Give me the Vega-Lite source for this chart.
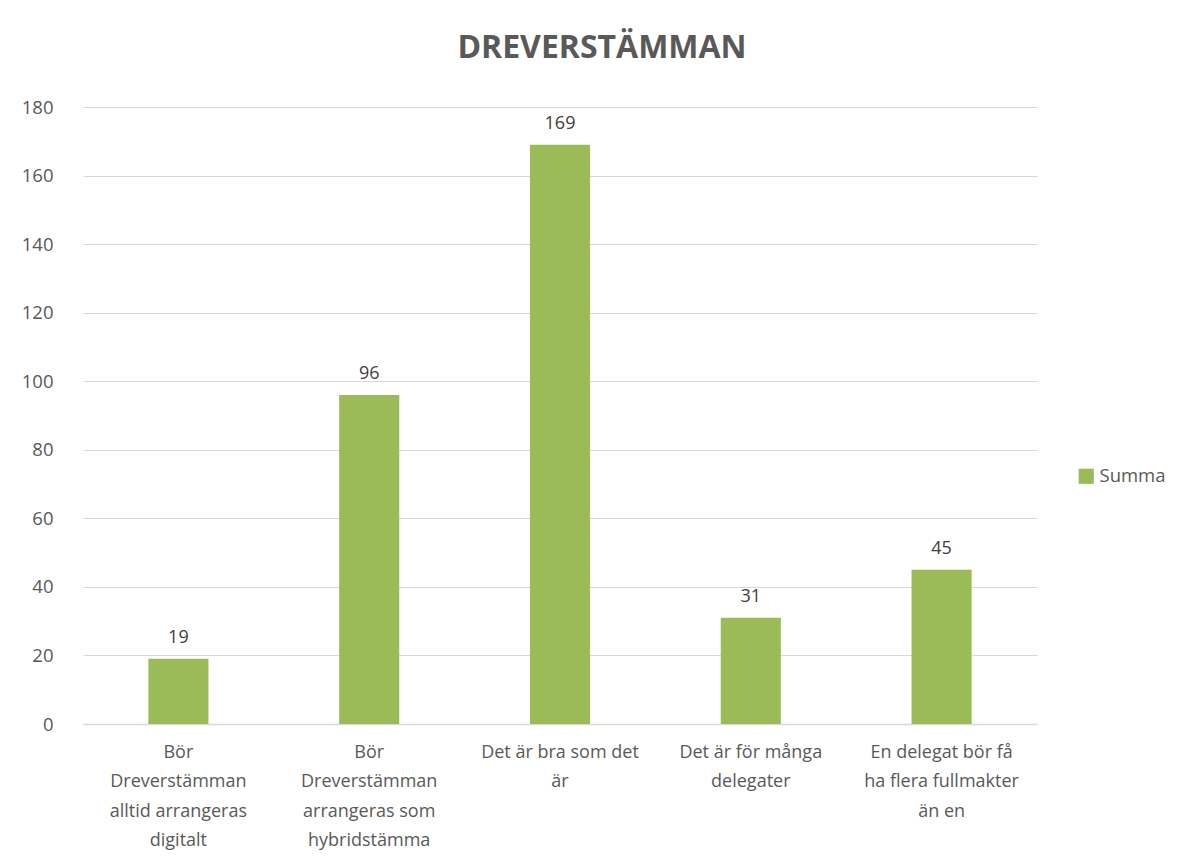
{
  "$schema": "https://vega.github.io/schema/vega-lite/v6.json",
  "autosize": "none",
  "width": 954,
  "height": 617,
  "padding": {"left": 83, "top": 107, "right": 155, "bottom": 144},
  "background": "white",
  "config": {
    "font": "Open Sans",
    "view": {"stroke": null}
  },
  "title": {
    "text": "DREVERSTÄMMAN",
    "font": "Open Sans",
    "fontSize": 32,
    "fontWeight": "bold",
    "color": "#595959",
    "anchor": "middle",
    "frame": "group",
    "dx": 42,
    "offset": 33
  },
  "data": {
    "values": [
      {"kategori": "Bör Dreverstämman alltid arrangeras digitalt", "serie": "Summa", "antal": 19},
      {"kategori": "Bör Dreverstämman arrangeras som hybridstämma", "serie": "Summa", "antal": 96},
      {"kategori": "Det är bra som det är", "serie": "Summa", "antal": 169},
      {"kategori": "Det är för många delegater", "serie": "Summa", "antal": 31},
      {"kategori": "En delegat bör få ha flera fullmakter än en", "serie": "Summa", "antal": 45}
    ]
  },
  "encoding": {
    "x": {
      "field": "kategori",
      "type": "nominal",
      "sort": null,
      "title": null,
      "scale": {"paddingInner": 0.685, "paddingOuter": 0.3425},
      "axis": {
        "labelAngle": 0,
        "labelFont": "Open Sans",
        "labelFontSize": 18,
        "labelColor": "#595959",
        "labelLineHeight": 29.5,
        "labelPadding": 19,
        "labelBaseline": "top",
        "labelLimit": 300,
        "labelExpr": "{'Bör Dreverstämman alltid arrangeras digitalt': ['Bör', 'Dreverstämman', 'alltid arrangeras', 'digitalt'], 'Bör Dreverstämman arrangeras som hybridstämma': ['Bör', 'Dreverstämman', 'arrangeras som', 'hybridstämma'], 'Det är bra som det är': ['Det är bra som det', 'är'], 'Det är för många delegater': ['Det är för många', 'delegater'], 'En delegat bör få ha flera fullmakter än en': ['En delegat bör få', 'ha flera fullmakter', 'än en']}[datum.label]",
        "domainColor": "#d9d9d9",
        "domainWidth": 1.5,
        "ticks": false,
        "grid": false
      }
    },
    "y": {
      "field": "antal",
      "type": "quantitative",
      "title": null,
      "scale": {"domain": [0, 180], "nice": false},
      "axis": {
        "values": [0, 20, 40, 60, 80, 100, 120, 140, 160, 180],
        "labelFont": "Open Sans",
        "labelFontSize": 18.5,
        "labelColor": "#595959",
        "labelPadding": 30,
        "domain": false,
        "ticks": false,
        "grid": true,
        "gridColor": "#d9d9d9",
        "gridWidth": 1.2
      }
    }
  },
  "layer": [
    {
      "mark": {"type": "bar", "color": "#9bbb59"},
      "encoding": {
        "color": {
          "field": "serie",
          "type": "nominal",
          "scale": {"range": ["#9bbb59"]},
          "legend": {
            "title": null,
            "orient": "none",
            "legendX": 994,
            "legendY": 360,
            "symbolType": "square",
            "symbolSize": 230,
            "symbolStrokeWidth": 0,
            "labelFont": "Open Sans",
            "labelFontSize": 18.5,
            "labelColor": "#595959",
            "labelOffset": 4
          }
        }
      }
    },
    {
      "mark": {"type": "text", "baseline": "bottom", "dy": -12, "font": "Open Sans", "fontSize": 18, "color": "#404040"},
      "encoding": {"text": {"field": "antal", "type": "quantitative"}}
    }
  ]
}
